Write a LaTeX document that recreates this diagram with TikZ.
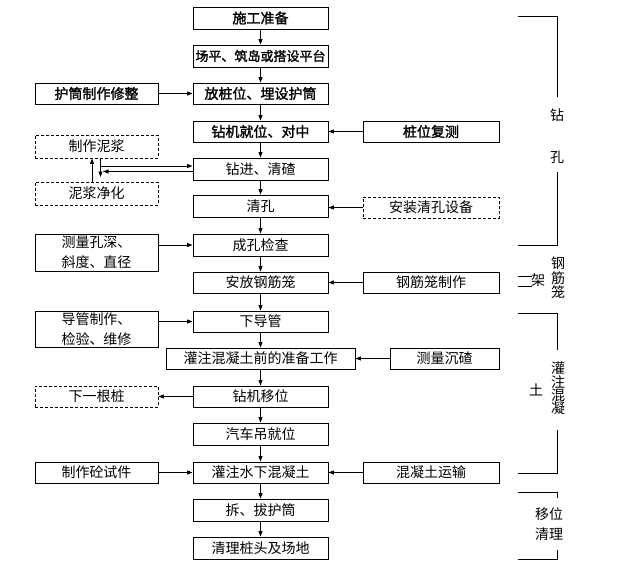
\documentclass[tikz,border=0pt]{standalone}
\usepackage{fontspec}
\setmainfont{Noto Sans CJK SC}
\newfontfamily\cjkbold[FakeBold=1.6]{Noto Sans CJK SC}
\usetikzlibrary{arrows.meta,calc}
\tikzset{
  box/.style={draw, line width=0.9pt, inner sep=0pt, align=center, font=\fontsize{14}{20}\selectfont},
  bbox/.style={box, font=\fontsize{14}{20}\selectfont\cjkbold},
  dbox/.style={box, dash pattern=on 3pt off 2pt},
  arr/.style={line width=0.9pt, -{Triangle[length=5.5pt,width=4pt]}},
  brk/.style={line width=0.9pt},
  lbl/.style={inner sep=0pt, font=\fontsize{14}{16}\selectfont},
}
\newcommand\bx[7]{\node[#6, minimum width={(#4-#2)*1pt}, minimum height={(#5-#3)*1pt}] (#1) at ({(#2+#4)/2},{(#3+#5)/2}) {#7};}
\begin{document}
\begin{tikzpicture}[x=1pt,y=-1pt]
\useasboundingbox (0,0) rectangle (633,571);
% main column
\bx{n1}{193}{7}{328}{29}{bbox}{施工准备}
\bx{n2}{193}{45}{328}{67}{box}{\fontsize{13}{16}\selectfont\cjkbold 场平、筑岛或搭设平台}
\bx{n3}{193}{83}{328}{104}{bbox}{放桩位、埋设护筒}
\bx{n4}{193}{121}{328}{142}{bbox}{钻机就位、对中}
\bx{n5}{193}{158}{328}{180}{box}{钻进、清碴}
\bx{n6}{193}{195}{328}{217}{box}{清孔}
\bx{n7}{193}{234}{328}{256}{box}{成孔检查}
\bx{n8}{193}{272}{328}{293}{box}{安放钢筋笼}
\bx{n9}{193}{311}{328}{332}{box}{下导管}
\bx{n10}{166}{348}{355}{369}{box}{灌注混凝土前的准备工作}
\bx{n11}{193}{386}{328}{407}{box}{钻机移位}
\bx{n12}{193}{423}{328}{445}{box}{汽车吊就位}
\bx{n13}{193}{462}{328}{483}{box}{灌注水下混凝土}
\bx{n14}{193}{499}{328}{521}{box}{拆、拔护筒}
\bx{n15}{193}{537}{328}{559}{box}{清理桩头及场地}
% left column
\bx{hz}{35}{83}{158}{104}{bbox}{护筒制作修整}
\bx{mj}{35}{135}{158}{158}{dbox}{制作泥浆}
\bx{jh}{35}{182}{158}{205}{dbox}{泥浆净化}
\bx{ck}{35}{234}{158}{271}{box}{测量孔深、\\斜度、直径}
\bx{dg}{35}{311}{158}{347}{box}{导管制作、\\检验、维修}
\bx{xy}{35}{386}{158}{407}{dbox}{下一根桩}
\bx{sj}{35}{462}{158}{483}{box}{制作砼试件}
% right column
\bx{fc}{363}{121}{499}{142}{bbox}{桩位复测}
\bx{az}{363}{197}{499}{218}{dbox}{安装清孔设备}
\bx{gz}{363}{272}{499}{293}{box}{钢筋笼制作}
\bx{cz}{390}{348}{499}{369}{box}{测量沉碴}
\bx{ys}{363}{462}{499}{483}{box}{混凝土运输}
% main arrows
\foreach \a/\b in {n1/n2,n2/n3,n3/n4,n4/n5,n5/n6,n6/n7,n7/n8,n8/n9,n9/n10,n10/n11,n11/n12,n12/n13,n13/n14,n14/n15}
  \draw[arr] (\a) -- (\b);
% side arrows
\draw[arr] (hz.east) -- (n3.west);
\draw[arr] (n7.west -| ck.east) -- (n7.west);
\draw[arr] (n9.west -| dg.east) -- (n9.west);
\draw[arr] (n11.west) -- (n11.west -| xy.east);
\draw[arr] (n13.west -| sj.east) -- (n13.west);
\draw[arr] (fc.west) -- (n4.east);
\draw[arr] (az.west) -- (az.west -| n6.east);
\draw[arr] (n8.east -| gz.west) -- (n8.east);
\draw[arr] (cz.west) -- (n10.east);
\draw[arr] (ys.west) -- (n13.east);
% mud loop
\draw[arr] (92,0 |- jh.north) -- (92,0 |- mj.south);
\draw[arr] (100.5,0 |- mj.south) -- (100.5,177);
\draw[arr] (100.5,166) -- (n5.west |- 0,166);
\draw[arr] (n5.west |- 0,171.5) -- (103,171.5);
% bracket: drilling
\node[lbl] (b1) at (557,115) {钻};
\node[lbl] (b2) at (557,157) {孔};
\draw[brk] (518,16) -- (557,16) -- (557,97);
\draw[brk] (557,172) -- (557,245) -- (518,245);
% bracket: cage
\node[lbl] (c1) at (558,263) {钢};
\node[lbl] (c2) at (558,278) {筋};
\node[lbl] (c3) at (558,292) {笼};
\node[lbl] (c4) at (538,280) {架};
\draw[brk] (518,276) -- (532,276);
\draw[brk] (518,286) -- (532,286);
% bracket: concrete
\draw[brk] (518,313) -- (557,313) -- (557,350);
\draw[brk] (557,430) -- (557,473) -- (518,473);
\node[lbl] (d1) at (558,368) {灌};
\node[lbl] (d2) at (558,382) {注};
\node[lbl] (d3) at (558,395) {混};
\node[lbl] (d4) at (558,408) {凝};
\node[lbl] (d5) at (536,390) {土};
% bracket: relocate & clean
\draw[brk] (518,492) -- (557,492) -- (557,498);
\draw[brk] (557,550) -- (557,559) -- (518,559);
\node[lbl] (e1) at (549,514) {移位};
\node[lbl] (e2) at (549,534) {清理};
\end{tikzpicture}
\end{document}
